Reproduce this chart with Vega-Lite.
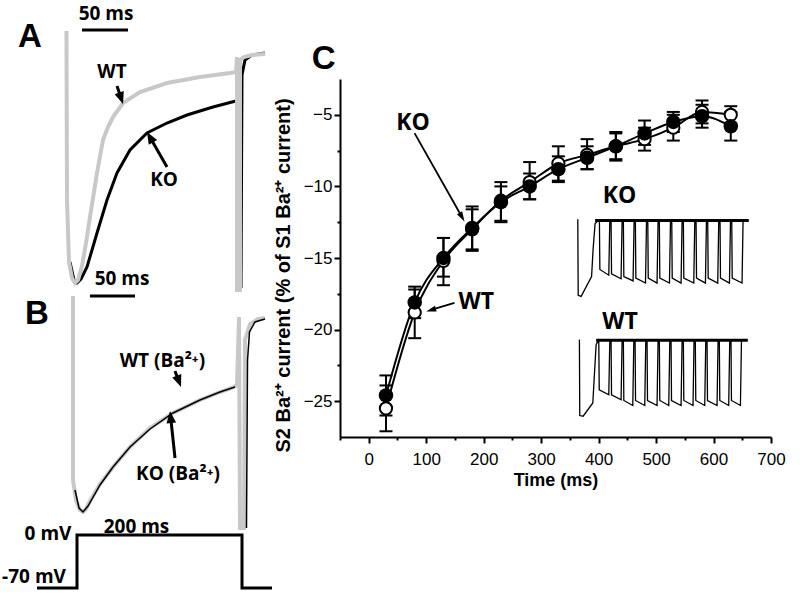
{
  "$schema": "https://vega.github.io/schema/vega-lite/v6.json",
  "padding": 0,
  "background": "white",
  "config": {"view": {"stroke": null}},
  "datasets": {
    "lt": [
      {"s":"A_WT","i":1,"t":-16.9,"v":-6.2},{"s":"A_WT","i":2,"t":-16.25,"v":-40},{"s":"A_WT","i":3,"t":-13.75,"v":-52.4},{"s":"A_WT","i":4,"t":-10,"v":-55.6},{"s":"A_WT","i":5,"t":-6.25,"v":-56.6},{"s":"A_WT","i":6,"t":-2.5,"v":-56},{"s":"A_WT","i":7,"t":2.5,"v":-53.2},{"s":"A_WT","i":8,"t":7.5,"v":-48.6},{"s":"A_WT","i":9,"t":12.5,"v":-43.4},{"s":"A_WT","i":10,"t":21.25,"v":-34.6},{"s":"A_WT","i":11,"t":28.75,"v":-28},{"s":"A_WT","i":12,"t":35,"v":-25.4},{"s":"A_WT","i":13,"t":41.25,"v":-23.4},{"s":"A_WT","i":14,"t":53.75,"v":-20.6},{"s":"A_WT","i":15,"t":75,"v":-18.4},{"s":"A_WT","i":16,"t":108.75,"v":-16.6},{"s":"A_WT","i":17,"t":150,"v":-15.4},{"s":"A_WT","i":18,"t":187.5,"v":-14.6},{"s":"A_WT","i":19,"t":195,"v":-14.4},{"s":"A_WT","i":20,"t":196.25,"v":-11.4},{"s":"A_WT","i":21,"t":196.25,"v":-58},{"s":"A_WT","i":22,"t":200,"v":-58},{"s":"A_WT","i":23,"t":200,"v":-12},{"s":"A_WT","i":24,"t":205,"v":-11.4},{"s":"A_WT","i":25,"t":215,"v":-11},{"s":"A_WT","i":26,"t":231.25,"v":-10.8},
      {"s":"A_KO","i":1,"t":-12.5,"v":-52.4},{"s":"A_KO","i":2,"t":-7.5,"v":-56},{"s":"A_KO","i":3,"t":-3.75,"v":-56.6},{"s":"A_KO","i":4,"t":1.25,"v":-55.8},{"s":"A_KO","i":5,"t":8.75,"v":-53.4},{"s":"A_KO","i":6,"t":15,"v":-50},{"s":"A_KO","i":7,"t":21.25,"v":-46.6},{"s":"A_KO","i":8,"t":33.75,"v":-40},{"s":"A_KO","i":9,"t":46.25,"v":-34.6},{"s":"A_KO","i":10,"t":62.5,"v":-30},{"s":"A_KO","i":11,"t":83.75,"v":-26.6},{"s":"A_KO","i":12,"t":108.75,"v":-24.6},{"s":"A_KO","i":13,"t":133.75,"v":-23},{"s":"A_KO","i":14,"t":166.25,"v":-21.4},{"s":"A_KO","i":15,"t":190,"v":-20.4},{"s":"A_KO","i":16,"t":195,"v":-20.2},
      {"s":"A_KOt","i":1,"t":201.25,"v":-57.6},{"s":"A_KOt","i":2,"t":202.5,"v":-15},{"s":"A_KOt","i":3,"t":206.25,"v":-12},{"s":"A_KOt","i":4,"t":215,"v":-11},{"s":"A_KOt","i":5,"t":231.25,"v":-10.6},
      {"s":"B_WT","i":1,"t":-8.75,"v":-59.2},{"s":"B_WT","i":2,"t":-8.75,"v":-96},{"s":"B_WT","i":3,"t":-5,"v":-100},{"s":"B_WT","i":4,"t":0,"v":-102},{"s":"B_WT","i":5,"t":3.75,"v":-102.4},{"s":"B_WT","i":6,"t":7.5,"v":-101.8},{"s":"B_WT","i":7,"t":12.5,"v":-100.2},{"s":"B_WT","i":8,"t":25,"v":-96.8},{"s":"B_WT","i":9,"t":41.25,"v":-93.4},{"s":"B_WT","i":10,"t":62.5,"v":-89.4},{"s":"B_WT","i":11,"t":87.5,"v":-85.6},{"s":"B_WT","i":12,"t":116.25,"v":-82.6},{"s":"B_WT","i":13,"t":150,"v":-80},{"s":"B_WT","i":14,"t":175,"v":-78.4},{"s":"B_WT","i":15,"t":192.5,"v":-77.4},{"s":"B_WT","i":16,"t":196.25,"v":-77},{"s":"B_WT","i":17,"t":198.75,"v":-63.4},{"s":"B_WT","i":18,"t":200,"v":-105.6},{"s":"B_WT","i":19,"t":205,"v":-105.6},{"s":"B_WT","i":20,"t":206.25,"v":-68},{"s":"B_WT","i":21,"t":212.5,"v":-64.8},{"s":"B_WT","i":22,"t":222.5,"v":-63.8},{"s":"B_WT","i":23,"t":231.25,"v":-63.6},
      {"s":"B_KO","i":1,"t":-6.25,"v":-98},{"s":"B_KO","i":2,"t":-1.25,"v":-101.6},{"s":"B_KO","i":3,"t":3.75,"v":-102.4},{"s":"B_KO","i":4,"t":10,"v":-101.2},{"s":"B_KO","i":5,"t":25,"v":-97},{"s":"B_KO","i":6,"t":41.25,"v":-93.4},{"s":"B_KO","i":7,"t":62.5,"v":-89.4},{"s":"B_KO","i":8,"t":87.5,"v":-85.8},{"s":"B_KO","i":9,"t":116.25,"v":-82.6},{"s":"B_KO","i":10,"t":150,"v":-80},{"s":"B_KO","i":11,"t":175,"v":-78.4},{"s":"B_KO","i":12,"t":193.75,"v":-77.4},
      {"s":"B_KOt","i":1,"t":208.1,"v":-105.6},{"s":"B_KOt","i":2,"t":209.4,"v":-72},{"s":"B_KOt","i":3,"t":211.9,"v":-66.4},{"s":"B_KOt","i":4,"t":218.75,"v":-64.4},{"s":"B_KOt","i":5,"t":231.25,"v":-63.8},
      {"s":"V","i":1,"t":-53.75,"v":-117.6},{"s":"V","i":2,"t":-3.75,"v":-117.6},{"s":"V","i":3,"t":-3.75,"v":-107},{"s":"V","i":4,"t":202.5,"v":-107},{"s":"V","i":5,"t":202.5,"v":-117.6},{"s":"V","i":6,"t":240,"v":-117.6}
    ],
    "lbars": [{"t":2.5,"t2":60,"v":-6,"v2":-6},{"t":12.5,"t2":68.75,"v":-59.2,"v2":-59.2}],
    "larrows": [
      {"id":"AWT","t":46.25,"v":-17.2,"t2":51.4,"v2":-19.66,"tt":53.75,"vt":-20.8},
      {"id":"AKO","t":108.75,"v":-33.4,"t2":87.5,"v2":-27.44,"tt":83.75,"vt":-26.4},
      {"id":"BWT","t":118.75,"v":-74.2,"t2":123.6,"v2":-76.3,"tt":126.25,"vt":-77.4},
      {"id":"BKO","t":118.75,"v":-91.6,"t2":113.3,"v2":-83.4,"tt":112.5,"vt":-82.2}
    ],
    "ltext": [
      {"k":"P","label":"A","t":-62.5,"v":-7.4},
      {"k":"P","label":"B","t":-53.75,"v":-62.8},
      {"k":"L","label":"50 ms","t":32.5,"v":-2.7},
      {"k":"L","label":"50 ms","t":52.5,"v":-55.8},
      {"k":"L","label":"WT","t":40,"v":-14.4},
      {"k":"L","label":"KO","t":105,"v":-36},
      {"k":"L","label":"WT (Ba²⁺)","t":103,"v":-72.2},
      {"k":"L","label":"KO (Ba²⁺)","t":122.5,"v":-94.8},
      {"k":"L","label":"200 ms","t":70.6,"v":-105.4},
      {"k":"L","label":"0 mV","t":-40,"v":-106.8},
      {"k":"L","label":"-70 mV","t":-57.5,"v":-115.4}
    ],
    "means": [
      {"g":"KO","time":30,"mean":-24.6,"lo":-26.0,"hi":-23.2},
      {"g":"KO","time":80,"mean":-18.1,"lo":-19.2,"hi":-17.0},
      {"g":"KO","time":130,"mean":-15.0,"lo":-16.3,"hi":-13.6},
      {"g":"KO","time":180,"mean":-12.9,"lo":-14.4,"hi":-11.4},
      {"g":"KO","time":230,"mean":-11.1,"lo":-12.4,"hi":-9.7},
      {"g":"KO","time":280,"mean":-10.0,"lo":-10.9,"hi":-9.1},
      {"g":"KO","time":330,"mean":-8.8,"lo":-9.7,"hi":-7.9},
      {"g":"KO","time":380,"mean":-8.0,"lo":-8.8,"hi":-7.2},
      {"g":"KO","time":430,"mean":-7.2,"lo":-8.2,"hi":-6.3},
      {"g":"KO","time":480,"mean":-6.3,"lo":-7.1,"hi":-5.4},
      {"g":"KO","time":530,"mean":-5.5,"lo":-6.2,"hi":-4.8},
      {"g":"KO","time":580,"mean":-5.1,"lo":-5.9,"hi":-4.3},
      {"g":"KO","time":630,"mean":-5.8,"lo":-6.8,"hi":-4.8},
      {"g":"WT","time":30,"mean":-25.5,"lo":-27.1,"hi":-23.9},
      {"g":"WT","time":80,"mean":-18.8,"lo":-20.6,"hi":-17.2},
      {"g":"WT","time":130,"mean":-15.2,"lo":-16.9,"hi":-13.6},
      {"g":"WT","time":180,"mean":-13.0,"lo":-14.5,"hi":-11.6},
      {"g":"WT","time":230,"mean":-11.0,"lo":-12.5,"hi":-10.0},
      {"g":"WT","time":280,"mean":-9.7,"lo":-10.9,"hi":-8.3},
      {"g":"WT","time":330,"mean":-8.4,"lo":-9.6,"hi":-7.2},
      {"g":"WT","time":380,"mean":-7.8,"lo":-8.8,"hi":-6.7},
      {"g":"WT","time":430,"mean":-7.2,"lo":-8.1,"hi":-6.2},
      {"g":"WT","time":480,"mean":-6.7,"lo":-7.5,"hi":-5.9},
      {"g":"WT","time":530,"mean":-5.9,"lo":-6.8,"hi":-5.0},
      {"g":"WT","time":580,"mean":-4.8,"lo":-5.6,"hi":-4.0},
      {"g":"WT","time":630,"mean":-5.0,"lo":-5.6,"hi":-4.4}
    ],
    "inset": [
      {"s":"KO","i":1,"x":363.8,"y":-12.3},{"s":"KO","i":2,"x":364.5,"y":-17.6},{"s":"KO","i":3,"x":369.6,"y":-17.68},{"s":"KO","i":4,"x":387.8,"y":-16.3},{"s":"KO","i":5,"x":390.4,"y":-14.4},{"s":"KO","i":6,"x":393.9,"y":-12.6},{"s":"KO","i":7,"x":399.1,"y":-12.4},
      {"s":"KO","i":8,"x":401.4,"y":-12.38},{"s":"KO","i":9,"x":402.2,"y":-15.8},{"s":"KO","i":10,"x":417.7,"y":-16.2},{"s":"KO","i":11,"x":419.5,"y":-12.38},
      {"s":"KO","i":12,"x":421.7,"y":-12.38},{"s":"KO","i":13,"x":422.5,"y":-16.1},{"s":"KO","i":14,"x":439.1,"y":-16.45},{"s":"KO","i":15,"x":440.9,"y":-12.38},
      {"s":"KO","i":16,"x":443.1,"y":-12.38},{"s":"KO","i":17,"x":443.9,"y":-16.3},{"s":"KO","i":18,"x":460.0,"y":-16.6},{"s":"KO","i":19,"x":461.8,"y":-12.38},
      {"s":"KO","i":20,"x":464.0,"y":-12.38},{"s":"KO","i":21,"x":464.8,"y":-16.4},{"s":"KO","i":22,"x":481.6,"y":-16.75},{"s":"KO","i":23,"x":483.4,"y":-12.38},
      {"s":"KO","i":24,"x":485.6,"y":-12.38},{"s":"KO","i":25,"x":486.4,"y":-16.4},{"s":"KO","i":26,"x":501.7,"y":-16.75},{"s":"KO","i":27,"x":503.5,"y":-12.38},
      {"s":"KO","i":28,"x":505.7,"y":-12.38},{"s":"KO","i":29,"x":506.5,"y":-16.4},{"s":"KO","i":30,"x":523.3,"y":-16.75},{"s":"KO","i":31,"x":525.1,"y":-12.38},
      {"s":"KO","i":32,"x":527.3,"y":-12.38},{"s":"KO","i":33,"x":528.1,"y":-16.4},{"s":"KO","i":34,"x":543.5,"y":-16.75},{"s":"KO","i":35,"x":545.3,"y":-12.38},
      {"s":"KO","i":36,"x":547.5,"y":-12.38},{"s":"KO","i":37,"x":548.3,"y":-16.4},{"s":"KO","i":38,"x":565.6,"y":-16.75},{"s":"KO","i":39,"x":567.4,"y":-12.38},
      {"s":"KO","i":40,"x":569.6,"y":-12.38},{"s":"KO","i":41,"x":570.4,"y":-16.4},{"s":"KO","i":42,"x":585.9,"y":-16.75},{"s":"KO","i":43,"x":587.7,"y":-12.38},
      {"s":"KO","i":44,"x":589.9,"y":-12.38},{"s":"KO","i":45,"x":590.7,"y":-16.4},{"s":"KO","i":46,"x":607.3,"y":-16.75},{"s":"KO","i":47,"x":609.1,"y":-12.38},
      {"s":"KO","i":48,"x":611.3,"y":-12.38},{"s":"KO","i":49,"x":612.1,"y":-16.4},{"s":"KO","i":50,"x":627.7,"y":-16.75},{"s":"KO","i":51,"x":629.5,"y":-12.38},
      {"s":"KO","i":52,"x":631.7,"y":-12.38},{"s":"KO","i":53,"x":632.5,"y":-16.4},{"s":"KO","i":54,"x":649.6,"y":-16.75},{"s":"KO","i":55,"x":651.4,"y":-12.38},
      {"s":"KO","i":56,"x":661.2,"y":-12.38},
      {"s":"WT","i":1,"x":366.6,"y":-20.7},{"s":"WT","i":2,"x":367.2,"y":-26.0},{"s":"WT","i":3,"x":373.0,"y":-26.05},{"s":"WT","i":4,"x":389.9,"y":-25.12},{"s":"WT","i":5,"x":392.2,"y":-23.5},{"s":"WT","i":6,"x":395.7,"y":-21.05},{"s":"WT","i":7,"x":399.1,"y":-20.77},
      {"s":"WT","i":8,"x":400.3,"y":-20.75},{"s":"WT","i":9,"x":401.1,"y":-24.2},{"s":"WT","i":10,"x":417.7,"y":-24.55},{"s":"WT","i":11,"x":419.5,"y":-20.75},
      {"s":"WT","i":12,"x":421.7,"y":-20.75},{"s":"WT","i":13,"x":422.5,"y":-24.55},{"s":"WT","i":14,"x":439.1,"y":-24.9},{"s":"WT","i":15,"x":440.9,"y":-20.75},
      {"s":"WT","i":16,"x":443.1,"y":-20.75},{"s":"WT","i":17,"x":443.9,"y":-24.95},{"s":"WT","i":18,"x":459.5,"y":-25.3},{"s":"WT","i":19,"x":461.3,"y":-20.75},
      {"s":"WT","i":20,"x":463.5,"y":-20.75},{"s":"WT","i":21,"x":464.3,"y":-24.95},{"s":"WT","i":22,"x":480.3,"y":-25.3},{"s":"WT","i":23,"x":482.1,"y":-20.75},
      {"s":"WT","i":24,"x":484.3,"y":-20.75},{"s":"WT","i":25,"x":485.1,"y":-24.95},{"s":"WT","i":26,"x":501.7,"y":-25.3},{"s":"WT","i":27,"x":503.5,"y":-20.75},
      {"s":"WT","i":28,"x":505.7,"y":-20.75},{"s":"WT","i":29,"x":506.5,"y":-24.95},{"s":"WT","i":30,"x":522.1,"y":-25.3},{"s":"WT","i":31,"x":523.9,"y":-20.75},
      {"s":"WT","i":32,"x":526.1,"y":-20.75},{"s":"WT","i":33,"x":526.9,"y":-24.95},{"s":"WT","i":34,"x":543.5,"y":-25.3},{"s":"WT","i":35,"x":545.3,"y":-20.75},
      {"s":"WT","i":36,"x":547.5,"y":-20.75},{"s":"WT","i":37,"x":548.3,"y":-24.95},{"s":"WT","i":38,"x":564.3,"y":-25.3},{"s":"WT","i":39,"x":566.1,"y":-20.75},
      {"s":"WT","i":40,"x":568.3,"y":-20.75},{"s":"WT","i":41,"x":569.1,"y":-24.95},{"s":"WT","i":42,"x":584.7,"y":-25.3},{"s":"WT","i":43,"x":586.5,"y":-20.75},
      {"s":"WT","i":44,"x":588.7,"y":-20.75},{"s":"WT","i":45,"x":589.5,"y":-24.95},{"s":"WT","i":46,"x":606.1,"y":-25.3},{"s":"WT","i":47,"x":607.9,"y":-20.75},
      {"s":"WT","i":48,"x":610.1,"y":-20.75},{"s":"WT","i":49,"x":610.9,"y":-24.95},{"s":"WT","i":50,"x":626.4,"y":-25.3},{"s":"WT","i":51,"x":628.2,"y":-20.75},
      {"s":"WT","i":52,"x":630.4,"y":-20.75},{"s":"WT","i":53,"x":631.2,"y":-24.95},{"s":"WT","i":54,"x":646.8,"y":-25.3},{"s":"WT","i":55,"x":648.6,"y":-20.75},
      {"s":"WT","i":56,"x":659.5,"y":-20.75}
    ],
    "insetTop": [{"x":393.9,"x2":661.2,"y":-12.38},{"x":395.7,"x2":659.5,"y":-20.75}],
    "ctext": [
      {"label":"KO","x":76.9,"y":-5.58},
      {"label":"WT","x":187,"y":-18.1},
      {"label":"KO","x":436.5,"y":-10.69},
      {"label":"WT","x":437.4,"y":-19.5}
    ],
    "carrows": [
      {"id":"KO","x":79.7,"y":-6.28,"x2":162.3,"y2":-12.14,"xt":166.6,"yt":-12.45},
      {"id":"WT","x":149.2,"y":-18.14,"x2":108.3,"y2":-18.63,"xt":100,"yt":-18.73}
    ]
  },
  "spacing": -5,
  "hconcat": [
    {
      "width": 272,
      "height": 595,
      "encoding": {
        "x": {"field": "t", "type": "quantitative", "scale": {"domain": [-100, 240], "nice": false, "zero": false}, "axis": null},
        "y": {"field": "v", "type": "quantitative", "scale": {"domain": [-119, 0], "nice": false, "zero": false}, "axis": null}
      },
      "layer": [
        {"data": {"name": "lt"}, "transform": [{"filter": "datum.s == 'A_KO' || datum.s == 'A_KOt'"}],
         "mark": {"type": "line", "color": "black", "strokeWidth": 3},
         "encoding": {"detail": {"field": "s"}, "order": {"field": "i", "type": "quantitative"}}},
        {"data": {"name": "lt"}, "transform": [{"filter": "datum.s == 'A_WT' || datum.s == 'B_WT'"}],
         "mark": {"type": "line", "color": "#c8c8c8", "strokeWidth": 4},
         "encoding": {"detail": {"field": "s"}, "order": {"field": "i", "type": "quantitative"}}},
        {"data": {"name": "lt"}, "transform": [{"filter": "datum.s == 'B_KO' || datum.s == 'B_KOt'"}],
         "mark": {"type": "line", "color": "black", "strokeWidth": 1.5},
         "encoding": {"detail": {"field": "s"}, "order": {"field": "i", "type": "quantitative"}}},
        {"data": {"name": "lt"}, "transform": [{"filter": "datum.s == 'V'"}],
         "mark": {"type": "line", "color": "black", "strokeWidth": 3},
         "encoding": {"order": {"field": "i", "type": "quantitative"}}},
        {"data": {"name": "lbars"},
         "mark": {"type": "rule", "color": "black", "strokeWidth": 3},
         "encoding": {"x2": {"field": "t2"}, "y2": {"field": "v2"}}},
        {"data": {"name": "larrows"},
         "mark": {"type": "rule", "color": "black", "strokeWidth": 3},
         "encoding": {"x2": {"field": "t2"}, "y2": {"field": "v2"}}},
        {"data": {"name": "larrows"}, "transform": [{"filter": "datum.id == 'AWT'"}],
         "mark": {"type": "point", "shape": "M0,0L-0.8,-2L0.8,-2Z", "size": 144, "angle": -18.4, "filled": true, "color": "black", "opacity": 1, "strokeWidth": 0},
         "encoding": {"x": {"field": "tt", "type": "quantitative"}, "y": {"field": "vt", "type": "quantitative"}}},
        {"data": {"name": "larrows"}, "transform": [{"filter": "datum.id == 'AKO'"}],
         "mark": {"type": "point", "shape": "M0,0L-0.8,-2L0.8,-2Z", "size": 144, "angle": 150.3, "filled": true, "color": "black", "opacity": 1, "strokeWidth": 0},
         "encoding": {"x": {"field": "tt", "type": "quantitative"}, "y": {"field": "vt", "type": "quantitative"}}},
        {"data": {"name": "larrows"}, "transform": [{"filter": "datum.id == 'BWT'"}],
         "mark": {"type": "point", "shape": "M0,0L-0.8,-2L0.8,-2Z", "size": 144, "angle": -20.6, "filled": true, "color": "black", "opacity": 1, "strokeWidth": 0},
         "encoding": {"x": {"field": "tt", "type": "quantitative"}, "y": {"field": "vt", "type": "quantitative"}}},
        {"data": {"name": "larrows"}, "transform": [{"filter": "datum.id == 'BKO'"}],
         "mark": {"type": "point", "shape": "M0,0L-0.8,-2L0.8,-2Z", "size": 144, "angle": 173.8, "filled": true, "color": "black", "opacity": 1, "strokeWidth": 0},
         "encoding": {"x": {"field": "tt", "type": "quantitative"}, "y": {"field": "vt", "type": "quantitative"}}},
        {"data": {"name": "ltext"}, "transform": [{"filter": "datum.k == 'P'"}],
         "mark": {"type": "text", "font": "Liberation Sans", "fontWeight": "bold", "fontSize": 33, "color": "black"},
         "encoding": {"text": {"field": "label"}}},
        {"data": {"name": "ltext"}, "transform": [{"filter": "datum.k == 'L'"}],
         "mark": {"type": "text", "font": "Open Sans", "fontWeight": "bold", "fontSize": 19, "color": "black"},
         "encoding": {"text": {"field": "label"}}}
      ]
    },
    {
      "spacing": 0,
      "vconcat": [
        {
          "width": 431,
          "height": 79,
          "data": {"values": [{"label": "C", "x": -78.4, "y": 0.25}]},
          "mark": {"type": "text", "font": "Liberation Sans", "fontWeight": "bold", "fontSize": 33, "color": "black"},
          "encoding": {
            "x": {"field": "x", "type": "quantitative", "scale": {"domain": [-50, 700], "nice": false, "zero": false}, "axis": null},
            "y": {"field": "y", "type": "quantitative", "scale": {"domain": [0, 1], "nice": false}, "axis": null},
            "text": {"field": "label"}
          }
        },
        {
          "width": 431,
          "height": 358,
          "resolve": {"axis": {"x": "independent", "y": "independent"}},
          "layer": [
            {"data": {"name": "means"},
             "mark": {"type": "line", "color": "black", "strokeWidth": 2, "interpolate": "monotone"},
             "encoding": {
               "x": {"field": "time", "type": "quantitative", "scale": {"domain": [-50, 700], "nice": false, "zero": false},
                     "axis": {"orient": "bottom", "values": [0,100,200,300,400,500,600,700], "title": "Time (ms)", "grid": false,
                              "domainColor": "black", "domainWidth": 2, "tickColor": "black", "tickWidth": 2, "tickSize": 6,
                              "labelFont": "Liberation Sans", "labelFontSize": 17, "labelColor": "black", "labelPadding": 8, "labelFlush": false,
                              "titleFont": "Liberation Sans", "titleFontSize": 18, "titleFontWeight": "bold", "titleColor": "black", "titlePadding": 4}},
               "y": {"field": "mean", "type": "quantitative", "scale": {"domain": [-27.5, -2.5], "nice": false, "zero": false},
                     "axis": {"orient": "left", "values": [-25,-20,-15,-10,-5], "title": "S2 Ba²⁺ current (% of S1 Ba²⁺ current)", "grid": false,
                              "domainColor": "black", "domainWidth": 2, "tickColor": "black", "tickWidth": 2, "tickSize": 6,
                              "labelFont": "Liberation Sans", "labelFontSize": 17, "labelColor": "black", "labelPadding": 2,
                              "titleFont": "Liberation Sans", "titleFontSize": 20, "titleFontWeight": "bold", "titleColor": "black", "titlePadding": 10, "titleY": 196}},
               "detail": {"field": "g"}
             }},
            {"data": {"name": "means"},
             "mark": {"type": "rule", "color": "black", "strokeWidth": 2},
             "encoding": {
               "x": {"field": "time", "type": "quantitative",
                     "axis": {"orient": "bottom", "values": [-50,50,150,250,350,450,550,650], "labels": false, "domain": false, "grid": false,
                              "tickColor": "black", "tickWidth": 2, "tickSize": 3, "title": null}},
               "y": {"field": "lo", "type": "quantitative",
                     "axis": {"orient": "left", "values": [-7.5,-12.5,-17.5,-22.5], "labels": false, "domain": false, "grid": false,
                              "tickColor": "black", "tickWidth": 2, "tickSize": 3, "title": null}},
               "y2": {"field": "hi"}
             }},
            {"data": {"name": "means"},
             "mark": {"type": "tick", "orient": "horizontal", "size": 13, "thickness": 2, "color": "black", "opacity": 1},
             "encoding": {"x": {"field": "time", "type": "quantitative", "axis": null}, "y": {"field": "lo", "type": "quantitative", "axis": null}}},
            {"data": {"name": "means"},
             "mark": {"type": "tick", "orient": "horizontal", "size": 13, "thickness": 2, "color": "black", "opacity": 1},
             "encoding": {"x": {"field": "time", "type": "quantitative", "axis": null}, "y": {"field": "hi", "type": "quantitative", "axis": null}}},
            {"data": {"name": "means"}, "transform": [{"filter": "datum.g == 'WT'"}],
             "mark": {"type": "point", "shape": "circle", "size": 150, "filled": false, "fill": "white", "stroke": "black", "strokeWidth": 2, "opacity": 1},
             "encoding": {"x": {"field": "time", "type": "quantitative", "axis": null}, "y": {"field": "mean", "type": "quantitative", "axis": null}}},
            {"data": {"name": "means"}, "transform": [{"filter": "datum.g == 'KO'"}],
             "mark": {"type": "point", "shape": "circle", "size": 210, "filled": true, "color": "black", "opacity": 1},
             "encoding": {"x": {"field": "time", "type": "quantitative", "axis": null}, "y": {"field": "mean", "type": "quantitative", "axis": null}}},
            {"data": {"name": "inset"},
             "mark": {"type": "line", "color": "black", "strokeWidth": 1.3},
             "encoding": {"x": {"field": "x", "type": "quantitative", "axis": null}, "y": {"field": "y", "type": "quantitative", "axis": null},
                          "detail": {"field": "s"}, "order": {"field": "i", "type": "quantitative"}}},
            {"data": {"name": "insetTop"},
             "mark": {"type": "rule", "color": "black", "strokeWidth": 3},
             "encoding": {"x": {"field": "x", "type": "quantitative", "axis": null}, "x2": {"field": "x2"}, "y": {"field": "y", "type": "quantitative", "axis": null}}},
            {"data": {"name": "ctext"},
             "mark": {"type": "text", "font": "Open Sans", "fontWeight": "bold", "fontSize": 23, "color": "black"},
             "encoding": {"x": {"field": "x", "type": "quantitative", "axis": null}, "y": {"field": "y", "type": "quantitative", "axis": null}, "text": {"field": "label"}}},
            {"data": {"name": "carrows"},
             "mark": {"type": "rule", "color": "black", "strokeWidth": 1.8},
             "encoding": {"x": {"field": "x", "type": "quantitative", "axis": null}, "y": {"field": "y", "type": "quantitative", "axis": null}, "x2": {"field": "x2"}, "y2": {"field": "y2"}}},
            {"data": {"name": "carrows"}, "transform": [{"filter": "datum.id == 'KO'"}],
             "mark": {"type": "point", "shape": "M0,0L-0.6,-2L0.6,-2Z", "size": 100, "angle": -29.5, "filled": true, "color": "black", "opacity": 1, "strokeWidth": 0},
             "encoding": {"x": {"field": "xt", "type": "quantitative", "axis": null}, "y": {"field": "yt", "type": "quantitative", "axis": null}}},
            {"data": {"name": "carrows"}, "transform": [{"filter": "datum.id == 'WT'"}],
             "mark": {"type": "point", "shape": "M0,0L-0.6,-2L0.6,-2Z", "size": 100, "angle": 73.5, "filled": true, "color": "black", "opacity": 1, "strokeWidth": 0},
             "encoding": {"x": {"field": "xt", "type": "quantitative", "axis": null}, "y": {"field": "yt", "type": "quantitative", "axis": null}}}
          ]
        }
      ]
    }
  ]
}
